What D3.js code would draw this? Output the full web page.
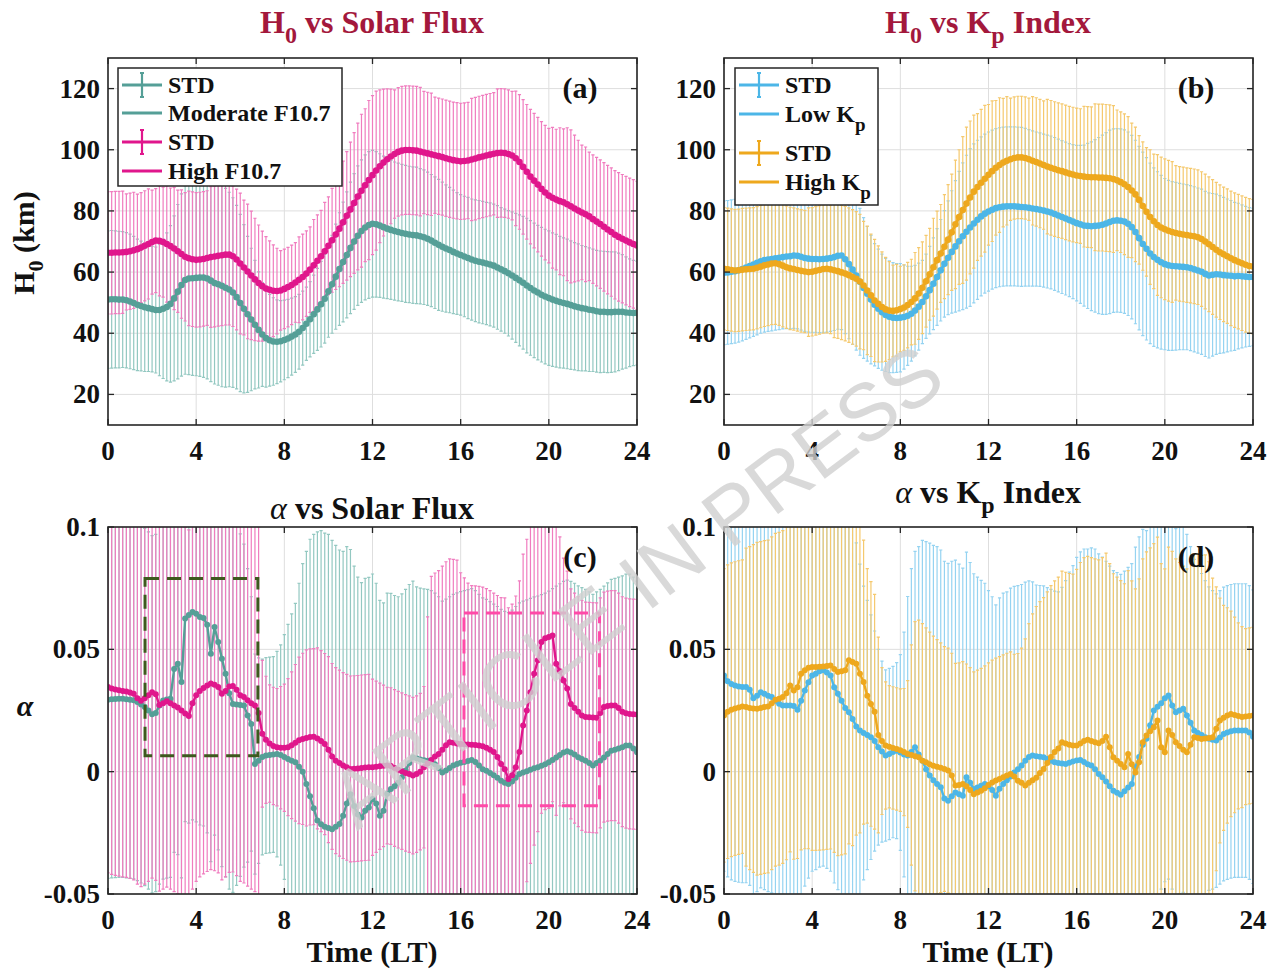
<!DOCTYPE html>
<html>
<head>
<meta charset="utf-8">
<script src="https://cdn.jsdelivr.net/npm/d3@7"></script>
<style>
  body { margin: 0; background: #fff; }
  svg { display: block; }
  text { font-family: "Liberation Serif", "Times New Roman", serif; font-weight: bold; fill: #111; }
</style>
</head>
<body>
<svg id="fig" width="1276" height="971"></svg>
<script>
// ---------------------------------------------------------------------------
// Diurnal variation of the topside scale height H0 (km) and the shape
// parameter alpha, binned every 10 minutes of local time (0-24 LT).
// Each series: mean value and one standard deviation.
// ---------------------------------------------------------------------------

const localTime = d3.range(145).map(i => i / 6);          // 10-min bins, 0..24 LT
const timeTicks = [0, 4, 8, 12, 16, 20, 24];
const h0Ticks = [20, 40, 60, 80, 100, 120];
const alphaTicks = [-0.05, 0, 0.05, 0.1];
const alphaTickLabels = ["-0.05", "0", "0.05", "0.1"];

// (a) H0 — moderate F10.7
const h0ModMean = [
  51.0,51.1,51.1,51.0,51.0,50.8, 50.4,49.9,49.3,48.9,48.5,48.2,
  47.9,47.6,47.6,48.0,48.6,49.6, 51.4,53.6,55.8,57.4,57.9,58.0,
  58.1,58.2,58.2,57.9,57.2,56.4, 56.0,55.5,54.9,54.3,53.3,51.8,
  49.9,48.0,46.2,44.5,42.8,41.1, 39.6,38.4,37.7,37.3,37.2,37.4,
  37.8,38.3,38.9,39.6,40.5,41.7, 43.1,44.6,46.2,47.8,49.5,51.3,
  53.7,56.0,58.5,61.0,63.3,65.6, 67.9,70.0,71.9,73.4,74.6,75.4,
  75.8,75.6,75.2,74.7,74.2,73.8, 73.4,73.1,72.8,72.5,72.3,72.1,
  72.0,71.7,71.4,70.9,70.3,69.6, 68.9,68.3,67.7,67.2,66.6,66.1,
  65.6,65.1,64.6,64.1,63.7,63.4, 63.1,62.8,62.5,62.1,61.5,60.9,
  60.3,59.6,58.9,58.1,57.3,56.5, 55.6,54.8,54.0,53.3,52.6,52.0,
  51.5,51.0,50.6,50.2,49.9,49.6, 49.2,48.8,48.5,48.2,48.0,47.7,
  47.5,47.2,47.0,47.0,46.9,46.9, 47.0,47.0,47.0,46.8,46.7,46.6,
  46.6
];
const h0ModSd = [
  22.5,22.5,22.4,22.3,22.2,22.1, 22.0,21.8,21.5,21.2,21.0,20.7,
  20.5,20.6,21.5,22.8,24.2,25.6, 27.0,28.5,29.8,30.8,31.4,31.8,
  32.0,32.3,32.6,32.8,33.0,33.0, 33.0,33.0,32.5,31.8,31.0,30.0,
  29.0,27.5,25.5,23.3,21.0,19.0, 17.0,16.0,15.0,14.3,13.7,13.3,
  13.0,12.8,12.6,12.4,12.2,12.1, 12.0,12.3,12.8,13.4,14.0,14.5,
  15.0,16.0,17.2,18.4,19.6,20.6, 21.5,22.2,22.8,23.3,23.7,24.0,
  24.0,23.8,23.5,23.2,22.9,22.7, 22.6,22.5,22.4,22.4,22.3,22.3,
  22.3,22.1,22.0,21.8,21.6,21.5, 21.4,21.1,20.8,20.5,20.2,19.9,
  19.7,19.7,19.8,19.8,19.9,20.0, 20.0,20.0,20.1,20.1,20.2,20.2,
  20.3,20.5,20.8,21.1,21.4,21.7, 22.0,22.0,22.0,22.0,22.0,22.0,
  22.0,21.8,21.7,21.5,21.3,21.2, 21.0,20.8,20.7,20.5,20.3,20.2,
  20.0,19.9,19.9,19.8,19.8,19.7, 19.6,19.2,18.7,18.2,17.6,17.2,
  17.0
];

// (a) H0 — high F10.7
const h0HighMean = [
  66.3,66.3,66.4,66.4,66.5,66.6, 66.8,67.1,67.5,68.0,68.6,69.2,
  69.8,70.3,70.2,69.8,69.2,68.5, 67.7,66.8,65.9,65.0,64.5,64.2,
  64.0,64.1,64.3,64.6,64.9,65.1, 65.3,65.5,65.7,65.7,65.2,64.1,
  62.8,61.5,60.2,58.9,57.6,56.4, 55.4,54.6,54.2,53.9,53.8,54.0,
  54.5,55.1,55.8,56.6,57.5,58.4, 59.5,60.8,62.2,63.7,65.2,66.8,
  68.6,70.4,72.3,74.2,76.3,78.4, 80.5,82.6,84.7,86.6,88.4,90.1,
  91.7,93.2,94.6,95.8,96.9,97.8, 98.6,99.3,99.7,99.9,99.9,99.8,
  99.7,99.4,99.1,98.8,98.5,98.2, 97.9,97.6,97.2,96.9,96.6,96.4,
  96.2,96.3,96.5,96.8,97.1,97.5, 97.8,98.1,98.4,98.7,98.9,99.0,
  98.9,98.6,98.1,97.2,96.0,94.4, 92.8,91.2,89.9,88.6,87.2,86.0,
  85.0,84.3,83.7,83.2,82.8,82.2, 81.5,80.8,80.1,79.5,78.9,78.2,
  77.3,76.5,75.7,74.8,73.9,73.1, 72.2,71.5,70.9,70.3,69.7,69.2,
  68.7
];
const h0HighSd = [
  20,20,20,20,20,19, 19,19,18,18,18,18,
  17,17,18,18,19,19, 20,20,21,21,22,22,
  22,22,22,22,23,23, 23,23,23,23,23,23,
  23,22,22,21,20,19, 18,17,16,15,14,13,
  13,13,13,13,14,14, 14,14,15,15,15,16,
  16,17,18,19,20,21, 22,23,24,25,25,26,
  26,26,25,24,23,22, 21,21,21,21,21,21,
  21,21,20,20,20,19, 19,19,19,19,19,19,
  19,19,19,20,20,20, 20,20,20,20,21,21,
  21,21,21,22,22,22, 22,22,22,22,22,22,
  22,23,23,24,24,25, 25,24,23,22,22,21,
  21,21,21,21,21,21, 21,21,21,21,21,21,
  21
];

// (b) H0 — low Kp
const h0LowKpMean = [
  59.8,59.9,60.1,60.3,60.6,61.0, 61.5,62.0,62.5,63.0,63.5,63.9,
  64.1,64.3,64.5,64.7,64.9,65.1, 65.2,65.4,65.3,65.0,64.6,64.4,
  64.3,64.3,64.2,64.3,64.4,64.6, 64.9,65.3,65.4,64.2,62.6,60.8,
  58.9,56.8,54.8,52.9,51.0,49.3, 48.0,46.9,46.0,45.4,45.1,45.0,
  45.1,45.3,45.7,46.4,47.4,48.7, 50.2,52.1,54.1,56.2,58.4,60.6,
  62.7,64.7,66.6,68.4,70.1,71.7, 73.2,74.6,75.9,77.1,78.2,79.1,
  79.8,80.4,80.9,81.2,81.4,81.5, 81.5,81.5,81.4,81.3,81.2,81.0,
  80.8,80.6,80.4,80.1,79.8,79.5, 79.0,78.5,78.0,77.5,77.0,76.5,
  76.0,75.6,75.2,75.1,75.0,75.1, 75.2,75.5,75.9,76.4,76.8,76.9,
  76.8,76.5,75.8,74.7,73.1,71.1, 69.2,67.6,66.1,64.9,64.0,63.2,
  62.6,62.2,62.0,61.9,61.8,61.7, 61.6,61.3,60.9,60.5,60.1,59.4,
  58.9,59.1,59.3,59.2,59.0,58.9, 58.8,58.6,58.7,58.6,58.5,58.4,
  58.4
];
const h0LowKpSd = [
  23.5,23.5,23.5,23.5,23.5,23.5, 23.5,23.5,23.5,23.5,23.5,23.5,
  23.5,23.5,23.5,23.5,23.5,23.6, 23.7,23.8,23.9,24.0,24.0,24.0,
  24.0,24.0,24.0,24.0,24.0,24.0, 24.0,24.0,24.2,24.3,24.4,24.4,
  24.4,24.0,23.0,22.0,21.0,20.0, 19.5,19.0,18.5,18.3,18.0,17.8,
  17.7,17.0,16.2,15.5,14.8,14.2, 13.6,13.8,14.3,15.0,15.8,16.6,
  17.4,18.6,20.0,21.5,22.8,24.0, 25.0,25.8,26.0,26.0,26.0,26.0,
  26.0,26.0,26.0,26.0,26.0,26.0, 26.0,26.0,26.0,26.0,25.8,25.6,
  25.4,25.2,25.1,25.0,25.0,25.0, 25.0,25.0,25.0,25.0,25.0,25.2,
  25.4,25.8,26.3,27.0,27.6,28.2, 28.8,29.3,29.7,30.0,30.0,30.0,
  30.0,30.0,30.0,30.0,30.0,30.0, 30.0,29.8,29.5,29.2,28.8,28.4,
  28.0,27.8,27.6,27.4,27.2,27.1, 27.0,27.0,27.0,27.0,27.0,27.0,
  27.0,26.6,26.2,25.8,25.4,25.0, 24.6,24.2,23.8,23.4,23.0,22.7,
  22.5
];

// (b) H0 — high Kp
const h0HighKpMean = [
  61.1,60.9,60.7,60.5,60.6,60.8, 60.9,61.0,61.1,61.4,61.8,62.2,
  62.5,62.8,62.9,62.6,62.1,61.6, 61.2,61.0,60.7,60.4,60.2,60.0,
  60.1,60.4,60.7,61.0,61.1,60.9, 60.6,60.3,59.9,59.5,59.0,58.4,
  57.8,56.9,55.6,54.0,52.4,50.7, 49.6,48.6,47.8,47.4,47.3,47.5,
  47.9,48.4,49.2,50.2,51.4,53.0, 54.9,57.0,59.3,61.6,63.9,66.1,
  68.3,70.6,73.0,75.6,78.0,80.3, 82.4,84.4,86.3,87.8,89.2,90.5,
  91.8,93.0,94.1,95.0,95.8,96.4, 96.9,97.3,97.5,97.5,97.3,96.9,
  96.4,96.0,95.5,95.0,94.5,94.1, 93.7,93.3,93.0,92.6,92.2,91.9,
  91.6,91.4,91.2,91.1,91.0,91.0, 90.9,90.9,90.8,90.7,90.4,90.0,
  89.4,88.7,87.8,86.7,85.4,83.6, 81.6,79.7,78.0,76.6,75.4,74.6,
  74.0,73.5,73.1,72.8,72.5,72.3, 72.1,71.9,71.7,71.4,70.8,70.0,
  69.1,68.2,67.3,66.5,65.8,65.2, 64.5,63.9,63.4,62.9,62.4,62.0,
  61.8
];
const h0HighKpSd = [
  20,20,20,20,20,20, 20,20,20,20,20,20,
  20,20,20,20,20,20, 20,20,20,20,20,21,
  21,21,21,21,21,21, 22,22,22,22,22,22,
  22,22,21,21,20,20, 19,18,17,16,15,15,
  14,14,14,14,15,15, 15,15,15,16,16,16,
  17,18,19,21,22,24, 25,25,25,24,24,24,
  23,23,22,22,21,21, 20,20,20,20,20,20,
  21,21,21,21,22,22, 22,22,22,22,22,22,
  22,22,23,23,23,24, 24,24,24,24,24,23,
  23,23,23,22,22,21, 21,21,22,22,23,23,
  23,23,23,22,22,22, 22,22,22,22,22,22,
  22,22,22,22,22,22, 22,22,22,22,22,22,
  22
];

// (c) alpha — moderate F10.7
const alphaModMean = [
  .0294,.0296,.0297,.0298,.0298,.0296, .0294,.0292,.0285,.0275,.0264,.0250,
  .0235,.0240,.0270,.0291,.0295,.0298, .0420,.0441,.0366,.0626,.0640,.0653,
  .0645,.0632,.0628,.0600,.0482,.0591, .0530,.0462,.0400,.0320,.0277,.0275,
  .0272,.0270,.0230,.0195,.0031,.0045, .0060,.0066,.0068,.0070,.0072,.0068,
  .0060,.0052,.0045,.0038,.0020,.0000, -.0050,-.0100,-.0150,-.0200,-.0215,-.0225,
  -.0230,-.0235,-.0225,-.0214,-.0180,-.0130, -.0092,-.0140,-.0175,-.0187,-.0160,-.0146,
  -.0112,-.0130,-.0180,-.0160,-.0090,-.0071, -.0060,-.0045,-.0023,.0005,.0035,.0059,
  .0055,.0050,.0047,.0045,.0040,.0030, .0015,-.0003,.0005,.0015,.0025,.0031,
  .0036,.0040,.0044,.0048,.0040,.0025, .0010,.0004,-.0005,-.0015,-.0025,-.0037,
  -.0045,-.0050,-.0040,-.0025,-.0010,-.0003, .0002,.0008,.0014,.0018,.0024,.0030,
  .0038,.0048,.0058,.0068,.0078,.0083, .0078,.0070,.0059,.0052,.0045,.0035,
  .0025,.0035,.0045,.0058,.0072,.0086, .0090,.0095,.0100,.0107,.0107,.0095,
  .0079
];
const alphaModSd = [
  .073,.073,.073,.073,.073,.073, .073,.073,.073,.073,.073,.073,
  .073,.073,.073,.073,.073,.073, .075,.078,.080,.083,.085,.085,
  .085,.085,.085,.085,.085,.085, .085,.085,.083,.080,.077,.074,
  .070,.066,.060,.052,.045,.042, .040,.040,.040,.040,.042,.045,
  .050,.055,.060,.065,.075,.085, .095,.105,.112,.118,.120,.120,
  .120,.118,.115,.112,.108,.105, .100,.098,.097,.096,.095,.094,
  .092,.090,.088,.085,.082,.080, .078,.076,.075,.074,.073,.072,
  .070,.070,.070,.070,.070,.070, .070,.070,.070,.070,.070,.070,
  .070,.070,.070,.070,.070,.070, .070,.070,.070,.070,.070,.070,
  .070,.070,.070,.070,.070,.070, .070,.070,.070,.070,.070,.070,
  .070,.070,.070,.070,.070,.070, .070,.070,.070,.070,.070,.070,
  .070,.070,.070,.070,.070,.070, .070,.070,.070,.070,.070,.070,
  .070
];

// (c) alpha — high F10.7
const alphaHighMean = [
  .0346,.0340,.0336,.0333,.0330,.0328, .0324,.0318,.0300,.0290,.0300,.0312,
  .0325,.0316,.0272,.0280,.0288,.0280, .0270,.0262,.0250,.0238,.0228,.0280,
  .0312,.0330,.0342,.0352,.0360,.0355, .0346,.0318,.0330,.0348,.0350,.0335,
  .0312,.0305,.0292,.0280,.0270,.0240, .0155,.0130,.0115,.0105,.0100,.0098,
  .0098,.0100,.0108,.0118,.0128,.0134, .0138,.0142,.0143,.0136,.0125,.0113,
  .0090,.0062,.0045,.0035,.0025,.0018, .0011,.0012,.0013,.0015,.0017,.0018,
  .0018,.0020,.0022,.0024,.0025,.0023, .0015,.0008,.0002,-.0005,-.0010,-.0016,
  -.0010,.0000,.0018,.0033,.0048,.0062, .0072,.0090,.0108,.0120,.0118,.0115,
  .0113,.0112,.0111,.0110,.0109,.0107, .0104,.0098,.0090,.0080,.0060,.0031,
  .0010,-.0030,-.0015,.0018,.0080,.0189, .0250,.0325,.0400,.0455,.0530,.0545,
  .0550,.0557,.0441,.0410,.0373,.0340, .0277,.0260,.0245,.0230,.0223,.0222,
  .0221,.0220,.0240,.0264,.0268,.0270, .0270,.0260,.0245,.0239,.0236,.0235,
  .0234
];
const alphaHighSd = [
  .076,.076,.076,.076,.076,.076, .076,.076,.076,.076,.076,.076,
  .076,.076,.076,.076,.076,.076, .076,.076,.076,.076,.076,.076,
  .076,.076,.076,.076,.076,.076, .076,.076,.076,.076,.076,.076,
  .076,.076,.076,.076,.076,.076, .030,.026,.024,.024,.024,.025,
  .026,.028,.030,.032,.034,.035, .036,.036,.036,.037,.037,.037,
  .038,.038,.038,.038,.038,.038, .038,.038,.038,.038,.038,.038,
  .036,.035,.034,.033,.032,.032, .032,.032,.032,.032,.032,.032,
  .032,.032,.033,.060,.075,.075, .075,.075,.075,.075,.075,.075,
  .070,.068,.066,.065,.065,.065, .065,.065,.065,.065,.066,.068,
  .070,.070,.070,.070,.070,.070, .070,.070,.070,.070,.070,.070,
  .070,.068,.062,.055,.050,.048, .047,.047,.047,.047,.047,.047,
  .047,.047,.047,.047,.047,.047, .047,.047,.047,.047,.047,.047,
  .047
];

// (d) alpha — low Kp
const alphaLowKpMean = [
  .0393,.0370,.0358,.0352,.0348,.0346, .0346,.0335,.0300,.0310,.0325,.0318,
  .0310,.0305,.0290,.0278,.0270,.0270, .0270,.0268,.0253,.0290,.0332,.0365,
  .0393,.0400,.0410,.0414,.0405,.0393, .0345,.0318,.0290,.0260,.0243,.0215,
  .0185,.0168,.0158,.0150,.0141,.0125, .0100,.0082,.0066,.0072,.0080,.0086,
  .0078,.0070,.0066,.0080,.0100,.0070, .0045,.0010,-.0016,-.0035,-.0050,-.0064,
  -.0110,-.0119,-.0100,-.0085,-.0092,-.0098, -.0023,-.0045,-.0071,-.0065,-.0058,-.0050,
  -.0060,-.0075,-.0098,-.0070,-.0050,-.0035, -.0020,-.0003,.0010,.0025,.0045,.0060,
  .0066,.0063,.0061,.0059,.0052,.0045, .0038,.0035,.0033,.0031,.0036,.0042,
  .0046,.0048,.0040,.0030,.0025,.0010, -.0010,-.0023,-.0040,-.0060,-.0078,-.0086,
  -.0094,-.0080,-.0065,-.0050,.0018,.0060, .0110,.0135,.0190,.0250,.0265,.0280,
  .0300,.0311,.0270,.0243,.0250,.0257, .0230,.0200,.0168,.0158,.0150,.0141,
  .0135,.0130,.0127,.0140,.0154,.0160, .0165,.0168,.0168,.0168,.0168,.0160,
  .0143
];
const alphaLowKpSd = [
  .080,.080,.080,.080,.080,.080, .080,.080,.080,.080,.080,.080,
  .080,.080,.080,.080,.080,.080, .080,.080,.080,.080,.080,.080,
  .080,.080,.080,.080,.080,.080, .080,.080,.080,.080,.080,.080,
  .075,.068,.060,.055,.050,.045, .040,.037,.035,.035,.035,.036,
  .040,.050,.065,.075,.080,.085, .090,.093,.095,.096,.097,.097,
  .097,.097,.096,.095,.094,.093, .092,.090,.088,.086,.084,.082,
  .080,.079,.078,.078,.078,.077, .077,.076,.075,.074,.073,.072,
  .071,.070,.070,.070,.070,.070, .070,.070,.072,.075,.078,.080,
  .083,.085,.087,.088,.089,.090, .090,.090,.090,.090,.090,.090,
  .090,.090,.090,.090,.090,.090, .088,.085,.082,.080,.078,.076,
  .075,.075,.075,.075,.075,.075, .074,.072,.070,.068,.066,.064,
  .062,.061,.060,.060,.060,.060, .060,.060,.060,.060,.060,.060,
  .060
];

// (d) alpha — high Kp
const alphaHighKpMean = [
  .0230,.0245,.0253,.0258,.0262,.0266, .0264,.0260,.0258,.0257,.0260,.0264,
  .0266,.0280,.0294,.0298,.0305,.0320, .0352,.0332,.0345,.0400,.0415,.0425,
  .0428,.0428,.0429,.0430,.0432,.0434, .0420,.0407,.0410,.0414,.0455,.0448,
  .0441,.0400,.0366,.0310,.0277,.0245, .0150,.0125,.0107,.0102,.0097,.0093,
  .0088,.0080,.0072,.0068,.0063,.0059, .0045,.0038,.0030,.0024,.0020,.0016,
  .0011,.0005,-.0016,-.0057,-.0055,-.0050, -.0060,-.0075,-.0092,-.0085,-.0078,-.0068,
  -.0055,-.0044,-.0036,-.0030,-.0023,-.0016, -.0010,-.0020,-.0037,-.0045,-.0057,-.0045,
  -.0035,-.0025,-.0005,.0011,.0035,.0060, .0080,.0095,.0120,.0115,.0110,.0107,
  .0107,.0115,.0125,.0130,.0125,.0120, .0116,.0125,.0143,.0100,.0059,.0045,
  .0031,.0018,.0072,.0030,-.0003,.0038, .0120,.0148,.0165,.0182,.0209,.0100,
  .0079,.0168,.0150,.0120,.0105,.0090, .0079,.0110,.0141,.0138,.0134,.0136,
  .0138,.0141,.0175,.0209,.0220,.0230, .0236,.0232,.0228,.0223,.0225,.0228,
  .0230
];
const alphaHighKpSd = [
  .060,.060,.060,.060,.060,.060, .065,.066,.067,.068,.068,.068,
  .068,.068,.068,.068,.068,.068, .068,.069,.070,.072,.073,.074,
  .075,.075,.075,.075,.075,.075, .075,.075,.075,.075,.075,.075,
  .070,.065,.058,.052,.050,.048, .040,.030,.026,.025,.025,.025,
  .025,.026,.030,.045,.055,.056, .056,.055,.054,.053,.052,.051,
  .050,.050,.050,.050,.050,.050, .050,.050,.050,.050,.050,.050,
  .050,.050,.050,.050,.050,.050, .050,.050,.052,.055,.060,.065,
  .068,.070,.070,.070,.070,.070, .070,.070,.070,.070,.070,.070,
  .072,.074,.075,.075,.075,.075, .075,.075,.075,.075,.075,.075,
  .075,.075,.075,.075,.075,.075, .075,.075,.075,.075,.075,.075,
  .075,.075,.075,.075,.075,.075, .075,.075,.075,.075,.075,.075,
  .072,.065,.058,.050,.046,.044, .042,.040,.038,.037,.036,.036,
  .036
];

// Highlighted windows in panel (c): [LT start, LT end, alpha low, alpha high]
const moderateWindow = [1.68, 6.8, 0.0065, 0.079];
const highWindow = [16.15, 22.3, -0.0139, 0.0649];

// ---------------------------------------------------------------------------
// colours: [curve, std bars]
const TEAL = ["#559f97", "#93c8c1"];
const MAGENTA = ["#e0168c", "#f07cbf"];
const SKY = ["#4cb6e7", "#95d3f1"];
const AMBER = ["#eea81d", "#f5c96e"];
const TITLE_RED = "#a3183c";

const svg = d3.select("#fig");
const PW = 529, PH = 367;

const panels = [
  { key: "a", left: 108, top: 58, domain: [10, 130], ticks: h0Ticks, labels: h0Ticks.map(String),
    series: [[h0ModMean, h0ModSd, TEAL], [h0HighMean, h0HighSd, MAGENTA]], lw: 3, r: 3.3, tag: "(a)" },
  { key: "b", left: 724, top: 58, domain: [10, 130], ticks: h0Ticks, labels: h0Ticks.map(String),
    series: [[h0LowKpMean, h0LowKpSd, SKY], [h0HighKpMean, h0HighKpSd, AMBER]], lw: 3, r: 3.3, tag: "(b)" },
  { key: "c", left: 108, top: 527, domain: [-0.05, 0.1], ticks: alphaTicks, labels: alphaTickLabels,
    series: [[alphaModMean, alphaModSd, TEAL], [alphaHighMean, alphaHighSd, MAGENTA]], lw: 2.4, r: 3, tag: "(c)" },
  { key: "d", left: 724, top: 527, domain: [-0.05, 0.1], ticks: alphaTicks, labels: alphaTickLabels,
    series: [[alphaLowKpMean, alphaLowKpSd, SKY], [alphaHighKpMean, alphaHighKpSd, AMBER]], lw: 2.4, r: 3, tag: "(d)" }
];

const scales = {};

panels.forEach(p => {
  const x = d3.scaleLinear().domain([0, 24]).range([p.left, p.left + PW]);
  const y = d3.scaleLinear().domain(p.domain).range([p.top + PH, p.top]);
  scales[p.key] = { x, y };
  const g = svg.append("g");

  svg.append("clipPath").attr("id", "clip-" + p.key)
    .append("rect").attr("x", p.left).attr("y", p.top).attr("width", PW).attr("height", PH);

  // grid
  g.append("g").selectAll("line").data(timeTicks).join("line")
    .attr("x1", d => x(d)).attr("x2", d => x(d)).attr("y1", p.top).attr("y2", p.top + PH)
    .attr("stroke", "#dedede").attr("stroke-width", 1);
  g.append("g").selectAll("line").data(p.ticks).join("line")
    .attr("y1", d => y(d)).attr("y2", d => y(d)).attr("x1", p.left).attr("x2", p.left + PW)
    .attr("stroke", "#dedede").attr("stroke-width", 1);

  const plot = g.append("g").attr("clip-path", `url(#clip-${p.key})`);

  // standard-deviation bars
  p.series.forEach(([mean, sd, color]) => {
    const cap = 1.6;
    let d = "";
    mean.forEach((m, i) => {
      const xi = x(localTime[i]), lo = y(m - sd[i]), hi = y(m + sd[i]);
      d += `M${xi},${lo}V${hi}M${xi - cap},${lo}H${xi + cap}M${xi - cap},${hi}H${xi + cap}`;
    });
    plot.append("path").attr("d", d).attr("fill", "none")
      .attr("stroke", color[1]).attr("stroke-width", 1.2);
  });

  // mean curves with markers
  p.series.forEach(([mean, sd, color]) => {
    const line = d3.line().x((m, i) => x(localTime[i])).y(m => y(m));
    plot.append("path").attr("d", line(mean)).attr("fill", "none")
      .attr("stroke", color[0]).attr("stroke-width", p.lw).attr("stroke-linejoin", "round");
    plot.append("g").selectAll("circle").data(mean).join("circle")
      .attr("cx", (m, i) => x(localTime[i])).attr("cy", m => y(m)).attr("r", p.r)
      .attr("fill", color[0]);
  });

  // frame
  g.append("rect").attr("x", p.left).attr("y", p.top).attr("width", PW).attr("height", PH)
    .attr("fill", "none").attr("stroke", "#262626").attr("stroke-width", 1.6);

  // inward ticks on all four sides
  const tk = 6;
  timeTicks.forEach(t => {
    g.append("line").attr("x1", x(t)).attr("x2", x(t)).attr("y1", p.top + PH).attr("y2", p.top + PH - tk)
      .attr("stroke", "#262626").attr("stroke-width", 1.3);
    g.append("line").attr("x1", x(t)).attr("x2", x(t)).attr("y1", p.top).attr("y2", p.top + tk)
      .attr("stroke", "#262626").attr("stroke-width", 1.3);
  });
  p.ticks.forEach(v => {
    g.append("line").attr("x1", p.left).attr("x2", p.left + tk).attr("y1", y(v)).attr("y2", y(v))
      .attr("stroke", "#262626").attr("stroke-width", 1.3);
    g.append("line").attr("x1", p.left + PW).attr("x2", p.left + PW - tk).attr("y1", y(v)).attr("y2", y(v))
      .attr("stroke", "#262626").attr("stroke-width", 1.3);
  });

  // tick labels
  g.append("g").selectAll("text").data(timeTicks).join("text")
    .attr("x", d => x(d)).attr("y", p.top + PH + 35).attr("text-anchor", "middle")
    .attr("font-size", 27).text(d => d);
  g.append("g").selectAll("text").data(p.ticks).join("text")
    .attr("x", p.left - 8).attr("y", d => y(d) + 9).attr("text-anchor", "end")
    .attr("font-size", 27).text((d, i) => p.labels[i]);

  // panel tag
  g.append("text").attr("x", p.left + PW - 57).attr("y", p.top + 40)
    .attr("text-anchor", "middle").attr("font-size", 30).text(p.tag);
});

// dashed highlight windows in panel (c)
[[moderateWindow, "#3d5a1e"], [highWindow, "#ff4aa8"]].forEach(([w, color]) => {
  const { x, y } = scales.c;
  svg.append("rect").attr("x", x(w[0])).attr("y", y(w[3]))
    .attr("width", x(w[1]) - x(w[0])).attr("height", y(w[2]) - y(w[3]))
    .attr("fill", "none").attr("stroke", color).attr("stroke-width", 3)
    .attr("stroke-dasharray", "14,8");
});

// titles
function subTitle(x, y, parts, color) {
  const t = svg.append("text").attr("x", x).attr("y", y).attr("text-anchor", "middle")
    .attr("font-size", 32).style("fill", color);
  parts.forEach(([s, kind]) => {
    const ts = t.append("tspan").text(s);
    if (kind === "sub") ts.attr("font-size", 24).attr("dy", 10);
    else if (kind === "after") ts.attr("dy", -10);
    else if (kind === "greek") ts.attr("font-style", "italic").attr("font-weight", "normal");
  });
  return t;
}
subTitle(372, 33, [["H"], ["0", "sub"], [" vs Solar Flux", "after"]], TITLE_RED);
subTitle(988, 33, [["H"], ["0", "sub"], [" vs K", "after"], ["p", "sub"], [" Index", "after"]], TITLE_RED);
subTitle(372, 519, [["α", "greek"], [" vs Solar Flux"]], "#111");
subTitle(988, 503, [["α", "greek"], [" vs K"], ["p", "sub"], [" Index", "after"]], "#111");

// axis labels
const yl = svg.append("text").attr("transform", "translate(34,243) rotate(-90)")
  .attr("text-anchor", "middle").attr("font-size", 30);
yl.append("tspan").text("H");
yl.append("tspan").text("0").attr("font-size", 22).attr("dy", 9);
yl.append("tspan").text(" (km)").attr("dy", -9);
svg.append("text").attr("x", 25).attr("y", 716).attr("text-anchor", "middle")
  .attr("font-size", 30).attr("font-style", "italic").attr("font-weight", "normal").text("α");
svg.append("text").attr("x", 372).attr("y", 962).attr("text-anchor", "middle").attr("font-size", 30).text("Time (LT)");
svg.append("text").attr("x", 988).attr("y", 962).attr("text-anchor", "middle").attr("font-size", 30).text("Time (LT)");

// legends
function legend(box, rows) {
  svg.append("rect").attr("x", box[0]).attr("y", box[1]).attr("width", box[2]).attr("height", box[3])
    .attr("fill", "#fff").attr("stroke", "#262626").attr("stroke-width", 1.5);
  rows.forEach(r => {
    const x0 = box[0] + 4, x1 = box[0] + 44;
    svg.append("line").attr("x1", x0).attr("x2", x1).attr("y1", r.y).attr("y2", r.y)
      .attr("stroke", r.color).attr("stroke-width", 3);
    if (r.std) {
      const xm = (x0 + x1) / 2;
      svg.append("line").attr("x1", xm).attr("x2", xm).attr("y1", r.y - 12).attr("y2", r.y + 12)
        .attr("stroke", r.color).attr("stroke-width", 2.2);
      [r.y - 12, r.y + 12].forEach(yy => svg.append("line").attr("x1", xm - 2).attr("x2", xm + 2)
        .attr("y1", yy).attr("y2", yy).attr("stroke", r.color).attr("stroke-width", 2));
    }
    const t = svg.append("text").attr("x", x1 + 6).attr("y", r.y + 8).attr("font-size", 24);
    t.append("tspan").text(r.label);
    if (r.sub) t.append("tspan").text(r.sub).attr("font-size", 19).attr("dy", 9);
  });
}
legend([118, 68, 224, 118], [
  { y: 85, color: TEAL[0], std: true, label: "STD" },
  { y: 113, color: TEAL[0], label: "Moderate F10.7" },
  { y: 142, color: MAGENTA[0], std: true, label: "STD" },
  { y: 171, color: MAGENTA[0], label: "High F10.7" }
]);
legend([735, 68, 143, 137], [
  { y: 85, color: SKY[0], std: true, label: "STD" },
  { y: 114, color: SKY[0], label: "Low K", sub: "p" },
  { y: 153, color: AMBER[0], std: true, label: "STD" },
  { y: 182, color: AMBER[0], label: "High K", sub: "p" }
]);

// watermark
svg.append("text").attr("transform", "translate(636,586) rotate(-37)")
  .attr("text-anchor", "middle").attr("dominant-baseline", "central")
  .style("font-family", "'Liberation Sans', Arial, sans-serif").style("font-weight", "normal")
  .attr("font-size", 81).style("fill", "#cfcfcf").style("fill-opacity", 0.8)
  .text("ARTICLE IN PRESS");
</script>
</body>
</html>
